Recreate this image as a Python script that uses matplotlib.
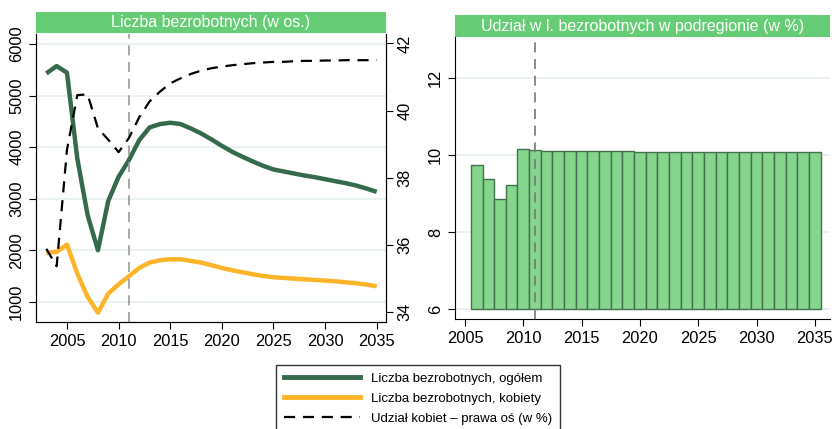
import matplotlib.pyplot as plt
from matplotlib.patches import Rectangle
from matplotlib.lines import Line2D

plt.rcParams['font.family'] = ['Liberation Sans', 'DejaVu Sans']

years = list(range(2003, 2036))
total = [5431, 5573, 5444, 3781, 2682, 2003, 2960, 3426, 3750, 4137, 4383,
         4448, 4474, 4448, 4363, 4266, 4150, 4027, 3911, 3814, 3723, 3639,
         3568, 3529, 3490, 3451, 3419, 3380, 3341, 3303, 3257, 3199, 3135]
women = [1951, 1970, 2112, 1550, 1097, 793, 1162, 1343, 1498, 1660, 1763,
         1808, 1828, 1828, 1796, 1763, 1712, 1660, 1615, 1576, 1537, 1505,
         1479, 1466, 1453, 1440, 1427, 1414, 1401, 1382, 1363, 1337, 1305]
women_share = [35.88, 35.36, 38.83, 40.46, 40.48, 39.47, 39.13, 38.76, 39.18,
               39.80, 40.27, 40.56, 40.81, 40.96, 41.09, 41.19, 41.26, 41.31,
               41.35, 41.38, 41.41, 41.43, 41.45, 41.45, 41.47, 41.48, 41.48,
               41.49, 41.49, 41.50, 41.50, 41.50, 41.50]

bar_years = list(range(2006, 2036))
region_share = [9.75, 9.38, 8.87, 9.22, 10.16, 10.14, 10.10, 10.12, 10.12,
                10.12, 10.12, 10.10, 10.10, 10.10] + [10.09] * 16

GREEN = '#356b4c'
ORANGE = '#fdb42b'
HEAD = '#66cc75'
GRID = '#e6eff0'

fig = plt.figure(figsize=(8.32, 4.29), dpi=100)

def header(ax, text, y0, y1):
    # green title strip above the plot
    x0, x1 = ax.get_position().x0, ax.get_position().x1
    fig.patches.append(Rectangle((x0, y0), x1 - x0, y1 - y0, transform=fig.transFigure,
                                 facecolor=HEAD, edgecolor='none'))
    fig.text((x0 + x1) / 2, (y0 + y1) / 2, text, color='white', fontsize=11.5,
             ha='center', va='center')

def style(ax):
    ax.spines['top'].set_visible(False)
    ax.tick_params(direction='out', length=5, labelsize=11.8)
    ax.grid(axis='y', color=GRID, lw=1.2)
    ax.set_axisbelow(True)
    for lab in ax.get_yticklabels():
        lab.set_rotation(90)
        lab.set_va('center')

# left panel
ax1 = fig.add_axes([36/832, 1-322/429, 350/832, 288/429])
ax1.plot(years, total, color=GREEN, lw=3.2, solid_capstyle='butt')
ax1.plot(years, women, color=ORANGE, lw=3.2, solid_capstyle='butt')
ax1.axvline(2011, color='#999999', lw=1.2, ls=(0, (6, 4)))
ax1.set_xlim(2002.0, 2035.9)
ax1.set_ylim(612, 6194)
ax1.set_yticks([1000, 2000, 3000, 4000, 5000, 6000])
ax1.set_xticks([2005, 2010, 2015, 2020, 2025, 2030, 2035])
style(ax1)
ax1r = ax1.twinx()
ax1r.plot(years, women_share, color='black', lw=1.6, ls=(0, (5, 3.5)))
ax1r.set_ylim(33.7, 42.28)
ax1r.set_yticks([34, 36, 38, 40, 42])
ax1r.spines['top'].set_visible(False)
ax1r.tick_params(direction='out', length=5, labelsize=11.8)
for lab in ax1r.get_yticklabels():
    lab.set_rotation(90)
    lab.set_va('center')
header(ax1, 'Liczba bezrobotnych (w os.)', 1-33/429, 1-12/429)

# right panel
ax2 = fig.add_axes([455/832, 1-319/429, 375/832, 282/429])
ax2.bar(bar_years, [v - 6 for v in region_share], bottom=6, width=1.0,
        color='#85d68c', edgecolor='#45704f', lw=1.0)
ax2.axvline(2011, color='#777777', lw=1.2, ls=(0, (6, 4)))
ax2.set_xlim(2004.14, 2036.3)
ax2.set_ylim(5.75, 13.07)
ax2.set_yticks([6, 8, 10, 12])
ax2.set_xticks([2005, 2010, 2015, 2020, 2025, 2030, 2035])
ax2.spines['right'].set_visible(False)
style(ax2)
header(ax2, 'Udział w l. bezrobotnych w podregionie (w %)', 1-37/429, 1-15/429)

handles = [Line2D([], [], color=GREEN, lw=3.5),
           Line2D([], [], color=ORANGE, lw=3.5),
           Line2D([], [], color='black', lw=1.6, ls=(0, (5, 3.5)))]
labels = ['Liczba bezrobotnych, ogółem', 'Liczba bezrobotnych, kobiety',
          'Udział kobiet – prawa oś (w %)']
leg = fig.legend(handles, labels, loc='upper center', bbox_to_anchor=(418/832, 1-358/429),
                 fontsize=9.5, frameon=True, fancybox=False, edgecolor='black',
                 handlelength=5.8, labelspacing=0.6, borderpad=0.6)
leg.get_frame().set_linewidth(1.0)

fig.savefig('out.png', dpi=100)
